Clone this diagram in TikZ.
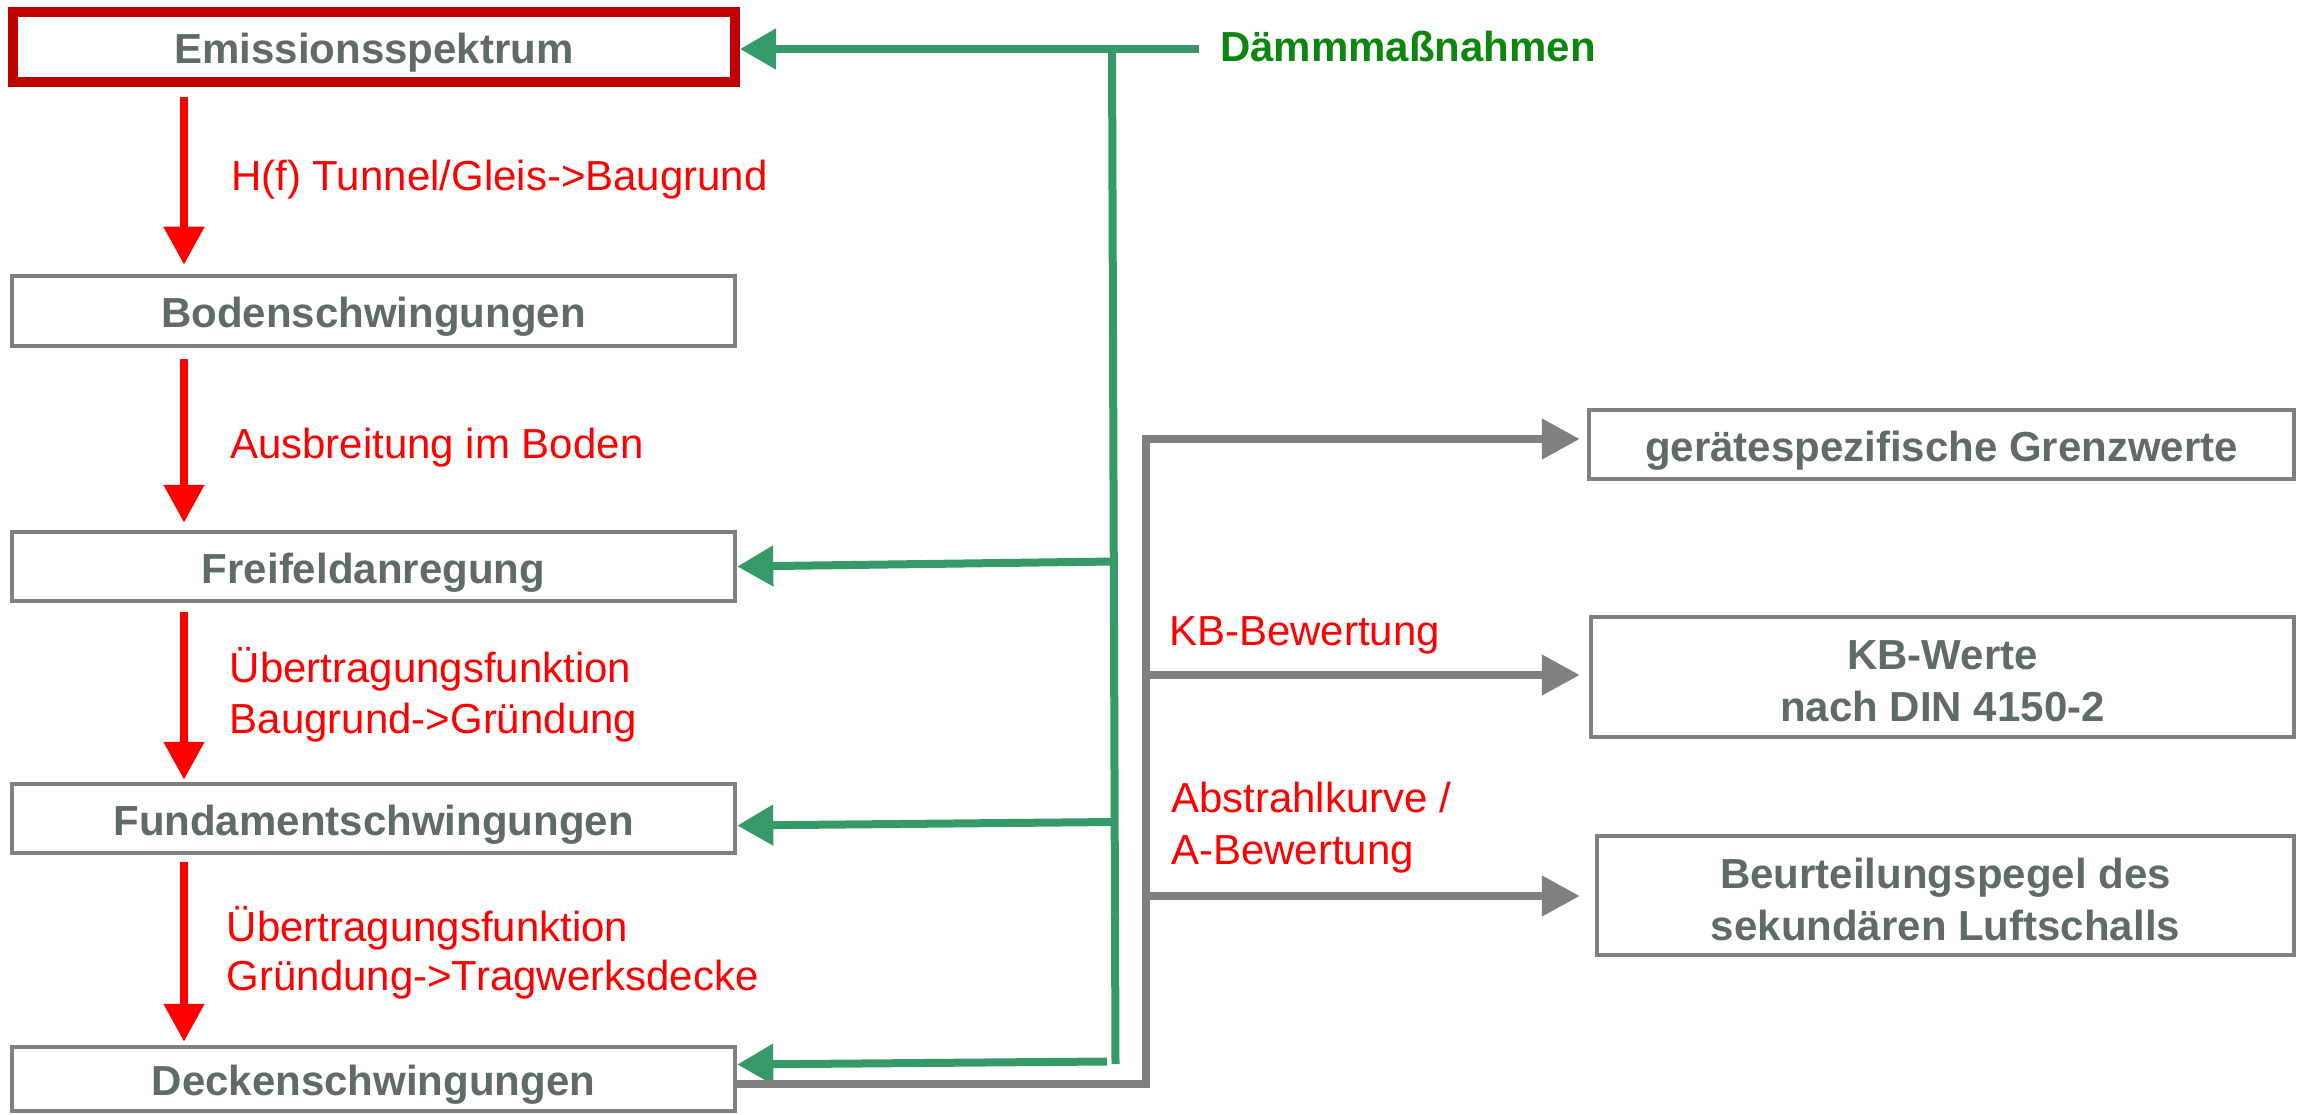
\documentclass[tikz,border=0pt]{standalone}
\usepackage{fontspec}
\setmainfont{Liberation Sans}
\usetikzlibrary{arrows.meta}
\definecolor{gtext}{RGB}{95,107,102}
\definecolor{boxgray}{RGB}{128,128,128}
\definecolor{redbox}{RGB}{192,0,0}
\definecolor{redtxt}{RGB}{255,0,0}
\definecolor{gline}{RGB}{54,154,104}
\definecolor{gtext2}{RGB}{12,134,12}
\begin{document}
\begin{tikzpicture}[x=1pt,y=-1pt,
  lbox/.style={draw=boxgray, line width=4.5pt, rectangle, inner sep=0pt,
    font=\bfseries\fontsize{42}{52}\selectfont, text=gtext, align=center},
  onel/.style={text height=37pt, text depth=4pt},
  redlbl/.style={anchor=base west, inner sep=0pt, text=redtxt, font=\fontsize{42}{52}\selectfont},
  redarr/.style={draw=redtxt, line width=8pt, -{Triangle[length=38pt,width=39pt]}},
  greenarr/.style={draw=gline, line width=8pt, -{Triangle[length=36pt,width=39pt]}},
  grayarr/.style={draw=boxgray, line width=8pt, line join=miter, -{Triangle[length=38pt,width=39pt]}}]
\useasboundingbox (0,0) rectangle (2299,1115);

% left column boxes
\node[lbox, onel, draw=redbox, line width=10pt, minimum width=722pt, minimum height=70pt] (E) at (374,47) {Emissionsspektrum};
\node[lbox, onel, minimum width=723pt, minimum height=70pt] (B) at (373.5,311) {Bodenschwingungen};
\node[lbox, onel, minimum width=723pt, minimum height=69pt] (F) at (373.5,566.5) {Freifeldanregung};
\node[lbox, onel, minimum width=723pt, minimum height=69pt] (Fu) at (373.5,818.5) {Fundamentschwingungen};
\node[lbox, onel, minimum width=723pt, minimum height=64pt] (D) at (373.5,1079) {Deckenschwingungen};

% right column boxes
\node[lbox, onel, minimum width=705pt, minimum height=69pt] (G) at (1941.5,444.5) {gerätespezifische Grenzwerte};
\node[lbox, minimum width=703pt, minimum height=120pt] (KB) at (1942.5,677) {\rule{0pt}{38pt}KB-Werte\\nach DIN 4150-2};
\node[lbox, minimum width=697pt, minimum height=119pt] (BP) at (1945.5,895.5) {\rule{0pt}{38pt}Beurteilungspegel des\\sekundären Luftschalls};

% red arrows
\coordinate (ax) at (184,0);
\draw[redarr, shorten <=10pt, shorten >=9pt] (E.south -| ax) -- (B.north -| ax);
\draw[redarr, shorten <=11pt, shorten >=7pt] (B.south -| ax) -- (F.north -| ax);
\draw[redarr, shorten <=9pt, shorten >=2pt] (F.south -| ax) -- (Fu.north -| ax);
\draw[redarr, shorten <=7pt, shorten >=3pt] (Fu.south -| ax) -- (D.north -| ax);

% red labels
\node[redlbl] (l1) at (231,191) {H(f) Tunnel/Gleis->Baugrund};
\node[redlbl] (l2) at (230,458) {Ausbreitung im Boden};
\node[redlbl] (l3a) at (229.5,682) {Übertragungsfunktion};
\node[redlbl] (l3b) at (229.5,733) {Baugrund->Gründung};
\node[redlbl] (l4a) at (226.5,941) {Übertragungsfunktion};
\node[redlbl] (l4b) at (226.5,990) {Gründung->Tragwerksdecke};
\node[redlbl] (kbl) at (1169,645) {KB-Bewertung};
\node[redlbl] (abl1) at (1171,812) {Abstrahlkurve /};
\node[redlbl] (abl2) at (1171,864) {A-Bewertung};

% green
\node[anchor=base west, inner sep=0pt, text=gtext2, font=\bfseries\fontsize{42}{52}\selectfont] (dm) at (1220,62) {Dämmmaßnahmen};
\coordinate (gj) at (1112,49);
\coordinate (gb) at (1115.5,1064);
\coordinate (g1) at (1114,561.5);
\coordinate (g2) at (1114.5,822);
\coordinate (g3) at (1107,1061.5);
\draw[greenarr] ([xshift=-21pt]dm.west |- gj) -- ([yshift=-2pt]E.east);
\draw[draw=gline, line width=8pt] (gj) -- (gb);
\draw[greenarr] (g1) -- (F.east);
\draw[greenarr] (g2) -- ([yshift=-7pt]Fu.east);
\draw[greenarr] (g3) -- ([yshift=14.5pt]D.east);

% gray
\coordinate (gx) at (1145.5,439);
\coordinate (k1) at (1145.5,675);
\coordinate (k2) at (1145.5,896);
\draw[grayarr] ([yshift=-4.5pt]D.east) -| (gx) -- ([xshift=-7pt,yshift=5.5pt]G.west);
\draw[grayarr] (k1) -- ([xshift=-9pt,yshift=2pt]KB.west);
\draw[grayarr] (k2) -- ([xshift=-15pt,yshift=-0.5pt]BP.west);
\end{tikzpicture}
\end{document}
